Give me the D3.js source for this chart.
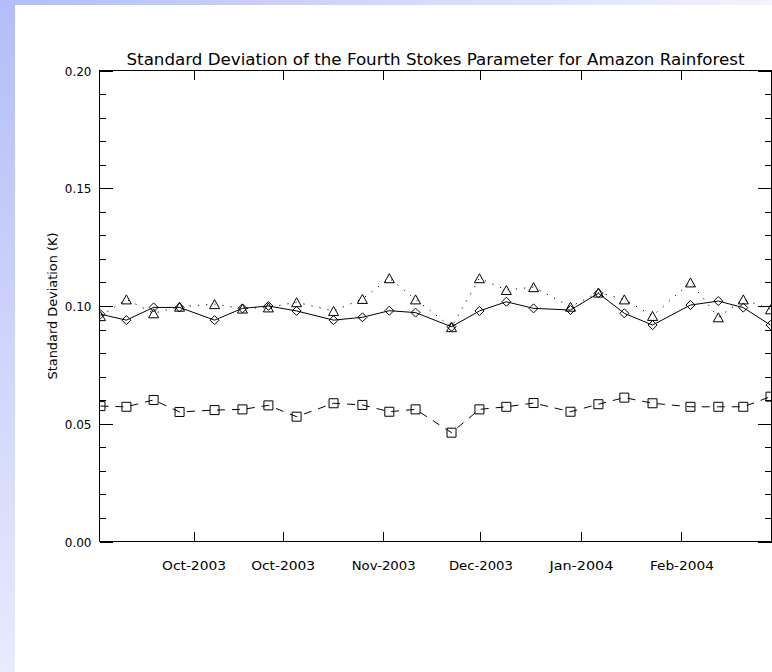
<!DOCTYPE html>
<html>
<head>
<meta charset="utf-8">
<script src="https://cdn.jsdelivr.net/npm/d3@7"></script>
<style>
  html, body { margin: 0; padding: 0; background: #ffffff; }
  svg { display: block; }
  text { font-family: "DejaVu Sans", "Liberation Sans", sans-serif; fill: #000; }
</style>
</head>
<body>
<script>
// ---- data (x: days since 1 Aug 2003) ----
const days = [4.8, 12.8, 21.2, 29.2, 40.0, 48.6, 56.6, 65.3, 76.7, 85.6, 93.9, 102.0,
              113.1, 121.7, 130.0, 138.4, 149.8, 158.4, 166.4, 175.1, 186.8, 195.4, 203.1, 211.5];
const solidValues = [0.0965, 0.0940, 0.0994, 0.0994, 0.0940, 0.0990, 0.1000, 0.0979, 0.0940, 0.0952, 0.0980, 0.0972,
                     0.0912, 0.0979, 0.1018, 0.0990, 0.0983, 0.1054, 0.0969, 0.0919, 0.1004, 0.1021, 0.0993, 0.0919];
const dottedValues = [0.0957, 0.1028, 0.0969, 0.0997, 0.1008, 0.0989, 0.0994, 0.1016, 0.0979, 0.1030, 0.1118, 0.1028,
                      0.0910, 0.1118, 0.1068, 0.1080, 0.0997, 0.1057, 0.1028, 0.0958, 0.1100, 0.0952, 0.1028, 0.0986];
const dashedValues = [0.0575, 0.0572, 0.0601, 0.0550, 0.0558, 0.0561, 0.0578, 0.0530, 0.0587, 0.0580, 0.0551, 0.0561,
                      0.0462, 0.0561, 0.0572, 0.0588, 0.0551, 0.0583, 0.0611, 0.0587, 0.0572, 0.0572, 0.0572, 0.0615];
const xDomain = [4.5, 211.8];
const xTickDays = [33.5, 61, 92, 122, 153, 184];
const xTickLabels = ["Oct-2003", "Oct-2003", "Nov-2003", "Dec-2003", "Jan-2004", "Feb-2004"];
const yDomain = [0, 0.20];
const yMajorTicks = [0.00, 0.05, 0.10, 0.15, 0.20];
const yTickLabels = ["0.00", "0.05", "0.10", "0.15", "0.20"];
const titleText = "Standard Deviation of the Fourth Stokes Parameter for Amazon Rainforest";
const yTitleText = "Standard Deviation (K)";

// ---- layout ----
const W = 772, H = 672;
const L = 99.5, R = 771.5, T = 70.5, B = 541.5;

const svg = d3.select("body").append("svg").attr("width", W).attr("height", H);
const defs = svg.append("defs");

// background slide gradients
const gl = defs.append("linearGradient").attr("id", "gLeft").attr("x1", 0).attr("y1", 0).attr("x2", 0).attr("y2", 1);
gl.append("stop").attr("offset", 0).attr("stop-color", "#b3bdf8");
gl.append("stop").attr("offset", 1).attr("stop-color", "#e8eafd");
const gt = defs.append("linearGradient").attr("id", "gTop").attr("x1", 0).attr("y1", 0).attr("x2", 1).attr("y2", 0);
gt.append("stop").attr("offset", 0).attr("stop-color", "#b3bdf8");
gt.append("stop").attr("offset", 1).attr("stop-color", "#f2f3fe");
svg.append("rect").attr("x", 0).attr("y", 0).attr("width", W).attr("height", 5).attr("fill", "url(#gTop)");
svg.append("rect").attr("x", 0).attr("y", 0).attr("width", 15).attr("height", H).attr("fill", "url(#gLeft)");

defs.append("clipPath").attr("id", "plotClip")
  .append("rect").attr("x", L).attr("y", T).attr("width", R - L).attr("height", B - T);

const x = d3.scaleLinear().domain(xDomain).range([L, R]);
const y = d3.scaleLinear().domain(yDomain).range([B, T]);

const xLen = 0.02 * (B - T);   // x-axis tick length
const yLen = 0.02 * (R - L);   // y-axis major tick length
const yMinor = d3.range(0, 0.2001, 0.01).filter(v => Math.abs(Math.round(v / 0.05) * 0.05 - v) > 1e-6);

function styleAxis(g) {
  g.select(".domain").remove();
  g.selectAll("line").attr("stroke", "#000").attr("stroke-width", 1).attr("shape-rendering", "crispEdges");
}

// bottom axis
const xb = svg.append("g").attr("transform", `translate(0,${B})`)
  .call(d3.axisBottom(x).tickValues(xTickDays).tickSize(-xLen).tickFormat((d, i) => xTickLabels[i]));
styleAxis(xb);
xb.selectAll("text").attr("y", 28).attr("dy", 0).attr("font-size", 12)
  .attr("textLength", 64).attr("lengthAdjust", "spacingAndGlyphs");
// top axis
const xt = svg.append("g").attr("transform", `translate(0,${T})`)
  .call(d3.axisTop(x).tickValues(xTickDays).tickSize(-xLen).tickFormat(""));
styleAxis(xt);

// left axis
const yl = svg.append("g").attr("transform", `translate(${L},0)`)
  .call(d3.axisLeft(y).tickValues(yMajorTicks).tickSize(-yLen).tickFormat((d, i) => yTickLabels[i]));
styleAxis(yl);
yl.selectAll("text").attr("x", -8).attr("dy", 0).attr("y", 4.5).attr("font-size", 12);
const ylm = svg.append("g").attr("transform", `translate(${L},0)`)
  .call(d3.axisLeft(y).tickValues(yMinor).tickSize(-yLen / 2).tickFormat(""));
styleAxis(ylm);
// right axis
const yr = svg.append("g").attr("transform", `translate(${R},0)`)
  .call(d3.axisRight(y).tickValues(yMajorTicks).tickSize(-yLen).tickFormat(""));
styleAxis(yr);
const yrm = svg.append("g").attr("transform", `translate(${R},0)`)
  .call(d3.axisRight(y).tickValues(yMinor).tickSize(-yLen / 2).tickFormat(""));
styleAxis(yrm);

// frame
svg.append("rect").attr("x", L).attr("y", T).attr("width", R - L).attr("height", B - T)
  .attr("fill", "none").attr("stroke", "#000").attr("stroke-width", 1).attr("shape-rendering", "crispEdges");

// series
const plot = svg.append("g").attr("clip-path", "url(#plotClip)");
const line = vals => d3.line().x((d, i) => x(days[i])).y(d => y(d))(vals);

function drawSeries(vals, dash, symbol) {
  plot.append("path").attr("d", line(vals)).attr("fill", "none")
    .attr("stroke", "#000").attr("stroke-width", 1)
    .attr("stroke-dasharray", dash);
  plot.selectAll(null).data(vals).enter().append("path")
    .attr("transform", (d, i) => `translate(${x(days[i])},${y(d)})`)
    .attr("d", symbol)
    .attr("fill", "none").attr("stroke", "#000").attr("stroke-width", 1);
}
const diamondSym = "M0,-4.5L4.5,0L0,4.5L-4.5,0Z";
const triangleSym = "M-5,4.5L0,-4.5L5,4.5Z";
const squareSym = "M-4.5,-4.5L4.5,-4.5L4.5,4.5L-4.5,4.5Z";

drawSeries(dottedValues, "1.2,7", triangleSym);
drawSeries(dashedValues, "8,7", squareSym);
drawSeries(solidValues, null, diamondSym);

// titles
svg.append("text").attr("x", (L + R) / 2).attr("y", 65).attr("text-anchor", "middle")
  .attr("font-size", 16).attr("textLength", 618).attr("lengthAdjust", "spacingAndGlyphs")
  .text(titleText);
svg.append("text").attr("transform", `translate(56.5,${(T + B) / 2}) rotate(-90)`)
  .attr("text-anchor", "middle").attr("font-size", 13)
  .attr("textLength", 147).attr("lengthAdjust", "spacingAndGlyphs")
  .text(yTitleText);
</script>
</body>
</html>
